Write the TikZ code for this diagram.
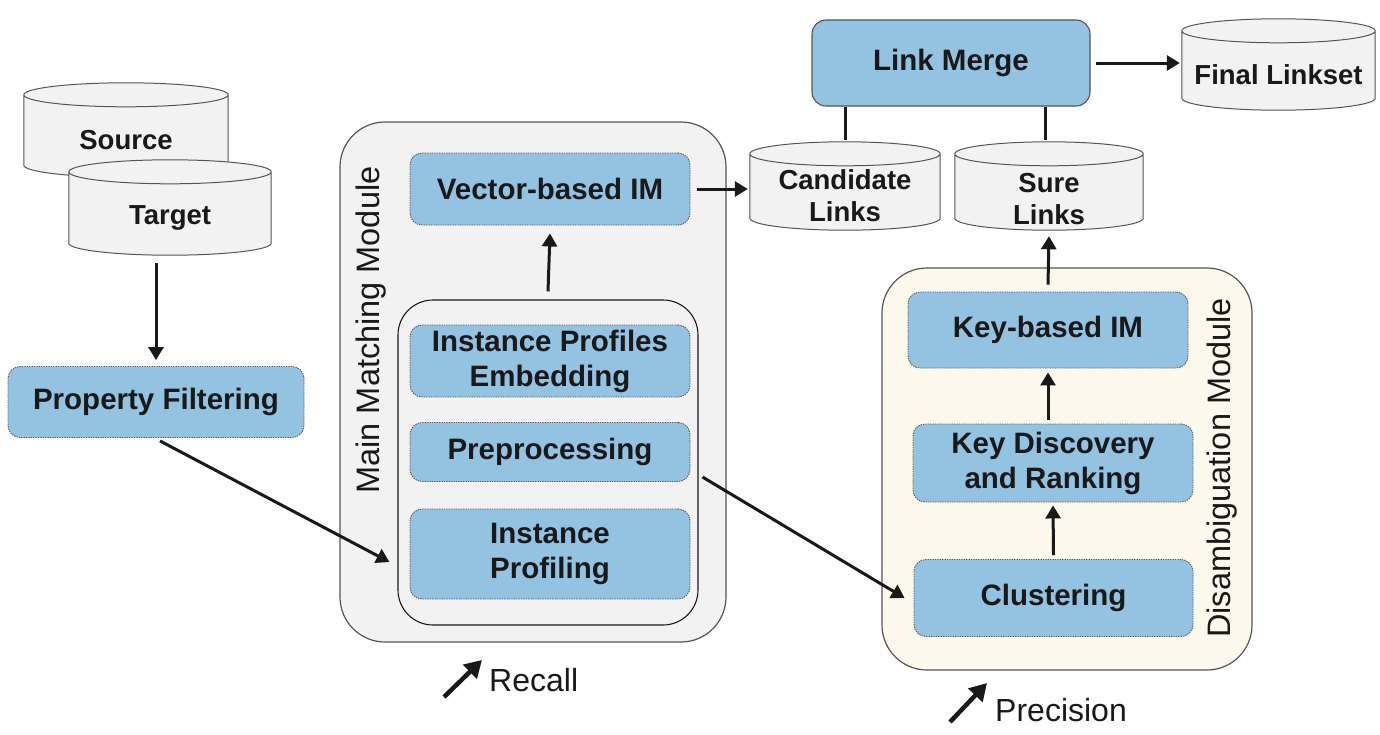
\documentclass[tikz,border=0pt]{standalone}
\usepackage{fontspec}
\setmainfont{Liberation Sans}
\usetikzlibrary{arrows.meta,positioning,calc,backgrounds}
\definecolor{boxblue}{RGB}{148,194,225}
\definecolor{modgray}{RGB}{242,242,242}
\definecolor{modcream}{RGB}{252,248,236}
\definecolor{edgegray}{RGB}{85,85,85}
\definecolor{inkblack}{RGB}{25,25,25}

% cylinder outline round a db node (node box = body below the top ellipse centre)
\newcommand{\dbshape}[1]{%
  \begin{pgfonlayer}{background}
  \draw[dbline] let \p1=(#1.north west),\p2=(#1.south east),\n1={(\x2-\x1)/2} in
    (\x1,\y1) -- (\x1,\y2+12pt)
      arc[start angle=180,end angle=360,x radius=\n1,y radius=12pt]
      -- (\x2,\y1)
      arc[start angle=0,end angle=180,x radius=\n1,y radius=12pt] -- cycle
    (\x1,\y1) arc[start angle=180,end angle=360,x radius=\n1,y radius=12pt];
  \end{pgfonlayer}}

\begin{document}
\begin{tikzpicture}[x=1pt,y=-1pt,
    proc/.style={rounded corners=12pt,fill=boxblue,draw=edgegray,
      dash pattern=on 1.3pt off 1.1pt,line width=0.9pt,
      font=\bfseries\fontsize{29.5}{35}\selectfont,text=inkblack,align=center},
    merge/.style={proc,solid,line width=1.1pt,rounded corners=14pt},
    db/.style={inner sep=0pt,font=\bfseries\fontsize{27.5}{32}\selectfont,
      text=inkblack,align=center,execute at begin node={\rule{0pt}{28pt}}},
    dbtext/.style={inner sep=0pt,font=\bfseries\fontsize{27.5}{32}\selectfont,
      text=inkblack,align=center},
    dbline/.style={draw=edgegray,fill=modgray,line width=1pt},
    module/.style={rounded corners=45pt,draw=edgegray,line width=1.2pt},
    modlabel/.style={rotate=90,font=\fontsize{32.5}{38}\selectfont,text=inkblack,inner sep=0pt},
    gain/.style={font=\fontsize{32}{38}\selectfont,text=inkblack,inner sep=0pt},
    arr/.style={-{Triangle[length=13pt,width=15pt]},line width=3pt,inkblack},
    gainarr/.style={-{Triangle[length=17pt,width=19pt]},line width=4.5pt,inkblack},
    link/.style={line width=3pt,inkblack}
  ]
  \useasboundingbox (0,0) rectangle (1380,734);

  % input data
  \node[db,minimum width=204pt,minimum height=82pt] (src) at (126,136) {Source};
  \dbshape{src}
  \node[db,minimum width=202pt,minimum height=83pt] (tgt) at (170,213.5) {Target};
  \dbshape{tgt}
  \node[proc,minimum width=296pt,minimum height=71pt] (pf) at (156,402) {Property Filtering};

  % main matching module
  \node[module,fill=modgray,minimum width=386pt,minimum height=520pt] (mmm) at (533,382) {};
  \node[modlabel] at (371,330) {Main Matching Module};
  \node[module,rounded corners=35pt,fill=modgray,line width=1.1pt,draw=inkblack,
    minimum width=300pt,minimum height=325pt] (inner) at (548,462.5) {};
  \node[proc,minimum width=280pt,minimum height=72pt] (vim) at (550,189) {Vector-based IM};
  \node[proc,minimum width=280pt,minimum height=72pt] (ipe) at (550,361) {Instance Profiles\\Embedding};
  \node[proc,minimum width=280pt,minimum height=59pt] (pre) at (550,452) {Preprocessing};
  \node[proc,minimum width=280pt,minimum height=90pt] (prof) at (550,554) {Instance\\Profiling};

  % disambiguation module
  \node[module,fill=modcream,minimum width=370pt,minimum height=402pt] (dm) at (1067,469) {};
  \node[modlabel] at (1222,468) {Disambiguation Module};
  \node[proc,minimum width=280pt,minimum height=76pt] (kbim) at (1048,330) {Key-based IM};
  \node[proc,minimum width=280pt,minimum height=78pt] (kdr) at (1053,463) {Key Discovery\\and Ranking};
  \node[proc,minimum width=279pt,minimum height=77pt] (clu) at (1053.5,598) {Clustering};

  % link sets
  \node[db,minimum width=190pt,minimum height=76pt] (cand) at (845,192) {};
  \dbshape{cand}
  \node[dbtext] (candtext) at ([yshift=-4pt]cand.center) {Candidate\\Links};
  \node[db,minimum width=188pt,minimum height=76pt] (sure) at (1049,192) {};
  \dbshape{sure}
  \node[dbtext] (suretext) at ([yshift=-7pt]sure.center) {Sure\\Links};
  \node[merge,minimum width=278pt,minimum height=86pt] (lm) at (951,63) {Link Merge};
  \node[db,minimum width=193pt,minimum height=79pt] (final) at (1278.5,70.5) {Final Linkset};
  \dbshape{final}

  % connectors
  \draw[arr,shorten <=8pt,shorten >=6pt] (pf.north |- tgt.south) -- (pf.north);
  \draw[arr] ([xshift=4pt,yshift=-3pt]pf.south) -- ([xshift=-8pt,yshift=-8pt]inner.west |- prof.center);
  \draw[arr] ([yshift=8pt]inner.north) -- ([yshift=-8pt]vim.south);
  \draw[arr] ([xshift=12pt,yshift=-25pt]pre.east) -- ([xshift=-9pt]clu.west);
  \draw[arr,shorten <=7pt,shorten >=2pt] (vim.east) -- (vim.east -| cand.west);
  \draw[link] (cand.north |- lm.south) -- ([yshift=14pt]cand.north);
  \draw[link] ([xshift=-4pt]sure.north |- lm.south) -- ([xshift=-4pt,yshift=14pt]sure.north);
  \draw[arr,shorten <=5pt,shorten >=2pt] (lm.east) -- (lm.east -| final.west);
  \draw[arr] ([yshift=7pt]kbim.north) -- ([yshift=-6pt]sure.south);
  \draw[arr] ([yshift=4pt]kdr.north -| kbim.south) -- ([yshift=-4pt]kbim.south);
  \draw[arr] ([yshift=4pt]clu.north) -- ([yshift=-3pt]kdr.south);

  % recall / precision
  \node[gain,anchor=west] (rec) at (489,680) {Recall};
  \draw[gainarr] ([xshift=-45pt,yshift=-17pt]rec.west) -- ([xshift=-7pt,yshift=20pt]rec.west);
  \node[gain,anchor=west] (prec) at (995,710) {Precision};
  \draw[gainarr] ([xshift=-45pt,yshift=-12pt]prec.west) -- ([xshift=-8pt,yshift=27pt]prec.west);
\end{tikzpicture}
\end{document}
